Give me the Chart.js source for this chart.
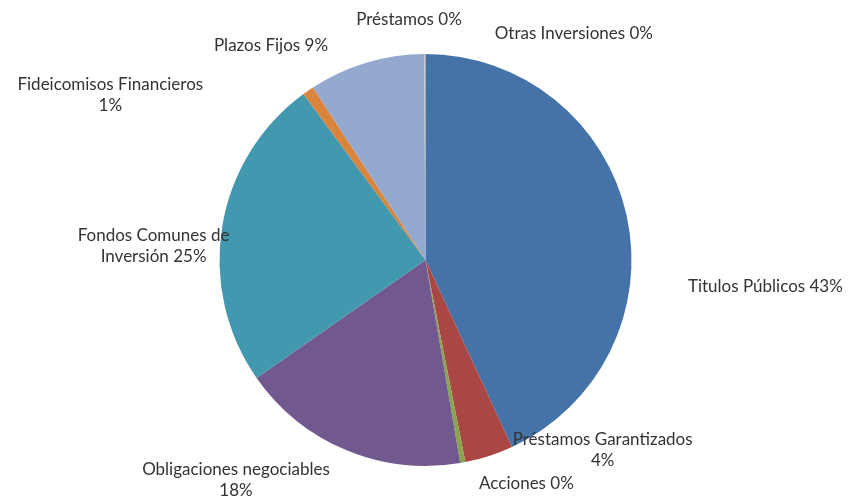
<!DOCTYPE html>
<html>
<head>
<meta charset="utf-8">
<script src="https://cdn.jsdelivr.net/npm/chart.js@4"></script>
<style>
  html, body { margin: 0; padding: 0; background: #fff; }
  #wrap { width: 848px; height: 499px; }
</style>
</head>
<body>
<div id="wrap"><canvas id="pieChart" width="848" height="499"></canvas></div>
<script>
const categories = ['Titulos Públicos', 'Préstamos Garantizados', 'Acciones', 'Obligaciones negociables',
	'Fondos Comunes de Inversión', 'Fideicomisos Financieros', 'Plazos Fijos', 'Préstamos', 'Otras Inversiones'];
const shares = [43.1, 3.8, 0.4, 18.0, 24.6, 0.9, 9.1, 0.05, 0.05];
const colors = ['#4572A7', '#AA4643', '#89A54E', '#71588F', '#4198AF', '#DB843D', '#93A9CF', '#B9CD96', '#A99BBD'];

// label placement, in units of the pie radius from its centre; br = words before line break
const labelLayout = [
	{ dx: 1.65, dy: 0.13, br: 0 },
	{ dx: 0.86, dy: 0.92, br: 2 },
	{ dx: 0.49, dy: 1.085, br: 0 },
	{ dx: -0.92, dy: 1.07, br: 2 },
	{ dx: -1.32, dy: -0.07, br: 3 },
	{ dx: -1.53, dy: -0.80, br: 2 },
	{ dx: -0.75, dy: -1.04, br: 0 },
	{ dx: -0.08, dy: -1.165, br: 0 },
	{ dx: 0.72, dy: -1.10, br: 0 }
];

const labelPlugin = {
	id: 'sliceLabels',
	afterDatasetsDraw(chart) {
		const c = chart.ctx;
		const arc = chart.getDatasetMeta(0).data[0];
		const cx = arc.x, cy = arc.y, r = arc.outerRadius;
		c.save();
		c.font = '17px Lato, "Open Sans", sans-serif';
		c.fillStyle = '#333';
		c.textAlign = 'center';
		c.textBaseline = 'middle';
		categories.forEach((name, i) => {
			const L = labelLayout[i];
			const words = (name + ' ' + Math.round(shares[i]) + '%').split(' ');
			const lines = L.br ? [words.slice(0, L.br).join(' '), words.slice(L.br).join(' ')] : [words.join(' ')];
			const x = cx + L.dx * r;
			const y0 = cy + L.dy * r - (lines.length - 1) * 10.5;
			lines.forEach((t, k) => c.fillText(t, x, y0 + k * 21));
		});
		c.restore();
	}
};

const ctx = document.getElementById('pieChart').getContext('2d');
const pieChart = new Chart(ctx, {
	type: 'pie',
	data: {
		labels: categories,
		datasets: [{
			data: shares,
			backgroundColor: colors,
			borderWidth: 0
		}]
	},
	options: {
		animation: false,
		responsive: false,
		layout: { padding: { left: 218, right: 215, top: 54, bottom: 33 } },
		plugins: {
			legend: { display: false },
			tooltip: { enabled: false }
		}
	},
	plugins: [labelPlugin]
});
</script>
</body>
</html>
